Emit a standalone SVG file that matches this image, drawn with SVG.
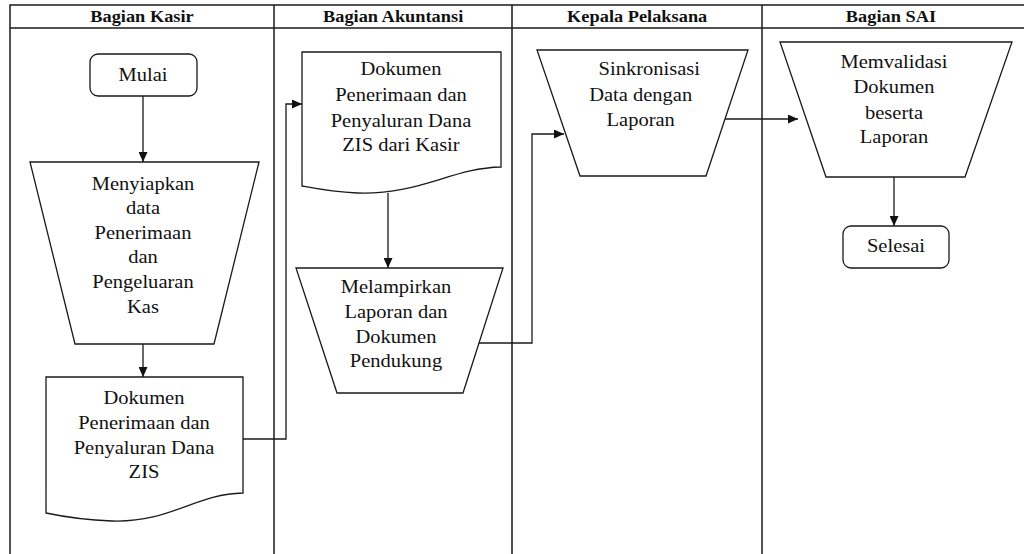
<svg xmlns="http://www.w3.org/2000/svg" width="1024" height="554" viewBox="0 0 1024 554">
<style>
.lane{stroke:#1a1a1a;stroke-width:1.5;fill:none}
.shape{stroke:#1a1a1a;stroke-width:1.3;fill:#fff}
.conn{stroke:#1a1a1a;stroke-width:1.3;fill:none}
.hd{font-size:17px;font-weight:bold;fill:#111;text-anchor:middle}
.tx{font-size:19px;fill:#111;text-anchor:middle}
</style>
<defs>
<marker id="arr" markerUnits="userSpaceOnUse" markerWidth="10" markerHeight="9" refX="10" refY="4.5" orient="auto">
<path d="M0,0 L10,4.5 L0,9 z" fill="#111"/>
</marker>
</defs>
<rect width="1024" height="554" fill="#fff"/>
<g id="lanes" font-family="Liberation Serif, Times New Roman, serif">
<path class="lane" d="M10,554 V5 H1024 M10,28 H1024 M274,5 V554 M512,5 V554 M762,5 V554"/>
<g transform="matrix(1.08 0 0 1 0 0)">
<text class="hd" x="131.5" y="22">Bagian Kasir</text>
<text class="hd" x="364" y="22">Bagian Akuntansi</text>
<text class="hd" x="590" y="22">Kepala Pelaksana</text>
<text class="hd" x="825" y="22">Bagian SAI</text>
</g>
</g>
<g id="connectors">
<path class="conn" d="M143,96 V162" marker-end="url(#arr)"/>
<path class="conn" d="M143,344 V377" marker-end="url(#arr)"/>
<path class="conn" d="M243,439 H286 V104 H302" marker-end="url(#arr)"/>
<path class="conn" d="M388,193 V268" marker-end="url(#arr)"/>
<path class="conn" d="M479,343 H532 V134 H564" marker-end="url(#arr)"/>
<path class="conn" d="M725,119 H798" marker-end="url(#arr)"/>
<path class="conn" d="M894,177 V226" marker-end="url(#arr)"/>
</g>
<g id="mulai" font-family="Liberation Serif, Times New Roman, serif">
<rect class="shape" x="90" y="54" width="107" height="42" rx="8"/>
<g transform="matrix(1.08 0 0 1 -11.44 0)"><text class="tx" x="143" y="81.5">Mulai</text></g>
</g>
<g id="menyiapkan" font-family="Liberation Serif, Times New Roman, serif">
<path class="shape" d="M30,162 H259 L214,344 H75 Z"/>
<g transform="matrix(1.08 0 0 1 -11.44 0)">
<text class="tx" x="143" y="190">Menyiapkan</text>
<text class="tx" x="143" y="214">data</text>
<text class="tx" x="143" y="239">Penerimaan</text>
<text class="tx" x="143" y="263">dan</text>
<text class="tx" x="143" y="288">Pengeluaran</text>
<text class="tx" x="143" y="313">Kas</text>
</g>
</g>
<g id="dokumen-kasir" font-family="Liberation Serif, Times New Roman, serif">
<path class="shape" d="M46,377 H243 V493 C195,494 170,523 112,521 C85,520 65,517 46,513 Z"/>
<g transform="matrix(1.08 0 0 1 -11.52 0)">
<text class="tx" x="144" y="404">Dokumen</text>
<text class="tx" x="144" y="429">Penerimaan dan</text>
<text class="tx" x="144" y="454">Penyaluran Dana</text>
<text class="tx" x="144" y="478">ZIS</text>
</g>
</g>
<g id="dokumen-akuntansi" font-family="Liberation Serif, Times New Roman, serif">
<path class="shape" d="M302,52 H501 V167 C452,168 420,195 357,193 C333,192 318,189 302,186 Z"/>
<g transform="matrix(1.08 0 0 1 -32.08 0)">
<text class="tx" x="401" y="75">Dokumen</text>
<text class="tx" x="401" y="101">Penerimaan dan</text>
<text class="tx" x="401" y="127">Penyaluran Dana</text>
<text class="tx" x="401" y="151">ZIS dari Kasir</text>
</g>
</g>
<g id="melampirkan" font-family="Liberation Serif, Times New Roman, serif">
<path class="shape" d="M296,268 H503 L463,393 H337 Z"/>
<g transform="matrix(1.08 0 0 1 -31.68 0)">
<text class="tx" x="396" y="293">Melampirkan</text>
<text class="tx" x="396" y="318">Laporan dan</text>
<text class="tx" x="396" y="343">Dokumen</text>
<text class="tx" x="396" y="367">Pendukung</text>
</g>
</g>
<g id="sinkronisasi" font-family="Liberation Serif, Times New Roman, serif">
<path class="shape" d="M537,50 H748 L706,176 H580 Z"/>
<g transform="matrix(1.08 0 0 1 -51.6 0)">
<text class="tx" x="649" y="75">Sinkronisasi</text>
<text class="tx" x="641" y="101">Data dengan</text>
<text class="tx" x="641" y="126">Laporan</text>
</g>
</g>
<g id="memvalidasi" font-family="Liberation Serif, Times New Roman, serif">
<path class="shape" d="M780,42 H1012 L965,177 H826 Z"/>
<g transform="matrix(1.08 0 0 1 -71.52 0)">
<text class="tx" x="894" y="68">Memvalidasi</text>
<text class="tx" x="894" y="93">Dokumen</text>
<text class="tx" x="894" y="119">beserta</text>
<text class="tx" x="894" y="143">Laporan</text>
</g>
</g>
<g id="selesai" font-family="Liberation Serif, Times New Roman, serif">
<rect class="shape" x="843" y="226" width="106" height="42" rx="8"/>
<g transform="matrix(1.08 0 0 1 -71.68 0)"><text class="tx" x="896" y="252">Selesai</text></g>
</g>
</svg>
